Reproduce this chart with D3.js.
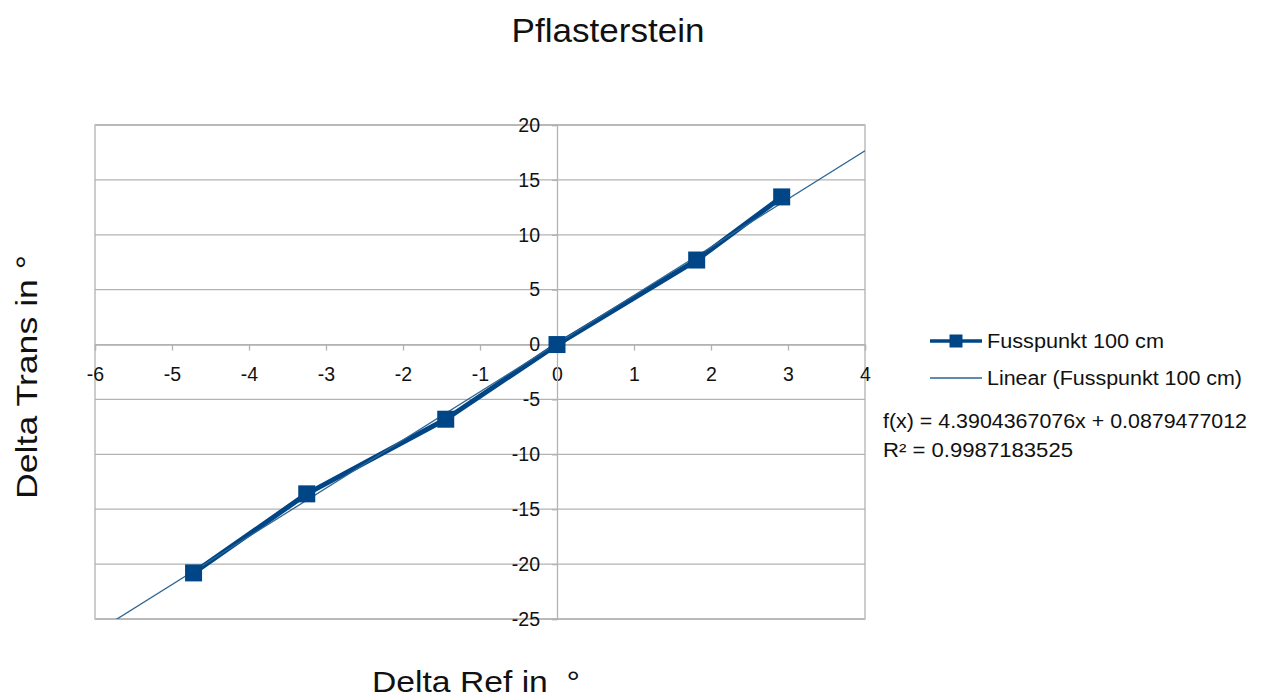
<!DOCTYPE html>
<html>
<head>
<meta charset="utf-8">
<script src="https://cdn.jsdelivr.net/npm/d3@7"></script>
<style>
  html, body { margin: 0; padding: 0; background: #fff; }
  svg { display: block; font-family: "Liberation Sans", Arial, sans-serif; }
  text { white-space: pre; }
</style>
</head>
<body>
<svg id="chart" width="1261" height="697"></svg>
<script>
// Measured points: Delta Ref (x) vs Delta Trans (y), in degrees
const deltaRef   = [-4.72, -3.25, -1.445, 0, 1.814, 2.918];
const deltaTrans = [-20.8, -13.6, -6.8, 0, 7.7, 13.45];

// Linear regression reported for the series
const fitSlope = 4.3904367076;
const fitIntercept = 0.0879477012;
const fitR2 = 0.9987183525;

const xTicks = [-6, -5, -4, -3, -2, -1, 0, 1, 2, 3, 4];
const yTicks = [-25, -20, -15, -10, -5, 0, 5, 10, 15, 20];

const seriesName = "Fusspunkt 100 cm";
const trendName = "Linear (Fusspunkt 100 cm)";
const chartTitle = "Pflasterstein";
const xTitle = "Delta Ref in  °";
const yTitle = "Delta Trans in °";

const svg = d3.select("#chart");
const plot = { left: 95, top: 125, right: 865, bottom: 619 };
const blue = "#004586";
const grid = "#b3b3b3";
const ink = "#111";
const hyphenFmt = d => String(d).replace("\u2212", "-");

const x = d3.scaleLinear().domain([-6, 4]).range([plot.left, plot.right]);
const y = d3.scaleLinear().domain([-25, 20]).range([plot.bottom, plot.top]);

// horizontal gridlines
svg.append("g").selectAll("line").data(yTicks).join("line")
  .attr("x1", plot.left).attr("x2", plot.right)
  .attr("y1", d => y(d)).attr("y2", d => y(d))
  .attr("stroke", grid).attr("stroke-width", 1.3);

// plot frame
svg.append("rect")
  .attr("x", plot.left).attr("y", plot.top)
  .attr("width", plot.right - plot.left).attr("height", plot.bottom - plot.top)
  .attr("fill", "none").attr("stroke", grid).attr("stroke-width", 1.3);

// x axis through y = 0
const xAxis = d3.axisBottom(x).tickValues(xTicks).tickSize(6).tickPadding(17)
  .tickFormat(hyphenFmt);
const gx = svg.append("g").attr("transform", `translate(0,${y(0)})`).call(xAxis);
gx.select(".domain").attr("stroke", grid).attr("stroke-width", 1.3);
gx.selectAll(".tick line").attr("stroke", grid).attr("stroke-width", 1.3);
gx.selectAll(".tick text").attr("font-size", 19.5).attr("fill", ink)
  .attr("font-family", "Liberation Sans, Arial, sans-serif");

// y axis through x = 0
const yAxis = d3.axisLeft(y).tickValues(yTicks).tickSize(5).tickPadding(12)
  .tickFormat(hyphenFmt);
const gy = svg.append("g").attr("transform", `translate(${x(0)},0)`).call(yAxis);
gy.select(".domain").attr("stroke", grid).attr("stroke-width", 1.3);
gy.selectAll(".tick line").attr("stroke", grid).attr("stroke-width", 1.3);
gy.selectAll(".tick text").attr("font-size", 19.5).attr("fill", ink)
  .attr("font-family", "Liberation Sans, Arial, sans-serif");

// clip for the trend line
svg.append("clipPath").attr("id", "plotClip").append("rect")
  .attr("x", plot.left).attr("y", plot.top)
  .attr("width", plot.right - plot.left).attr("height", plot.bottom - plot.top);

const pts = deltaRef.map((v, i) => [v, deltaTrans[i]]);

// series line
svg.append("path").datum(pts)
  .attr("d", d3.line().x(d => x(d[0])).y(d => y(d[1])))
  .attr("fill", "none").attr("stroke", blue).attr("stroke-width", 5)
  .attr("stroke-linejoin", "round");

// trend line
const xs = x.domain();
svg.append("line")
  .attr("clip-path", "url(#plotClip)")
  .attr("x1", x(xs[0])).attr("y1", y(fitSlope * xs[0] + fitIntercept))
  .attr("x2", x(xs[1])).attr("y2", y(fitSlope * xs[1] + fitIntercept))
  .attr("stroke", "#2d6593").attr("stroke-width", 1.3);

// markers
const ms = 17;
svg.append("g").selectAll("rect").data(pts).join("rect")
  .attr("x", d => x(d[0]) - ms / 2).attr("y", d => y(d[1]) - ms / 2)
  .attr("width", ms).attr("height", ms).attr("fill", blue);

// helper for text stretched to a given width
function label(g, xPos, yPos, str, size, width, anchor) {
  return g.append("text").attr("x", xPos).attr("y", yPos)
    .attr("text-anchor", anchor || "start")
    .attr("font-size", size).attr("fill", ink)
    .attr("textLength", width).attr("lengthAdjust", "spacingAndGlyphs")
    .text(str);
}

// title
label(svg, 608, 42, chartTitle, 34, 193, "middle");

// axis titles
label(svg, 476, 692, xTitle, 30, 208, "middle");
const yt = svg.append("g").attr("transform", "translate(37,377) rotate(-90)");
label(yt, 0, 0, yTitle, 30, 244, "middle");

// legend
const lg = svg.append("g");
lg.append("line").attr("x1", 930).attr("x2", 982).attr("y1", 341).attr("y2", 341)
  .attr("stroke", blue).attr("stroke-width", 3.5);
lg.append("rect").attr("x", 956 - 6.5).attr("y", 341 - 6.5).attr("width", 13).attr("height", 13)
  .attr("fill", blue);
label(lg, 987, 348, seriesName, 20, 177);
lg.append("line").attr("x1", 930).attr("x2", 982).attr("y1", 378).attr("y2", 378)
  .attr("stroke", "#2d6593").attr("stroke-width", 1.3);
label(lg, 987, 385, trendName, 20, 255);

// regression equation
label(svg, 883, 428, `f(x) = ${fitSlope}x + ${fitIntercept}`, 19.5, 364);
label(svg, 883, 457, `R² = ${fitR2}`, 19.5, 190);
</script>
</body>
</html>
